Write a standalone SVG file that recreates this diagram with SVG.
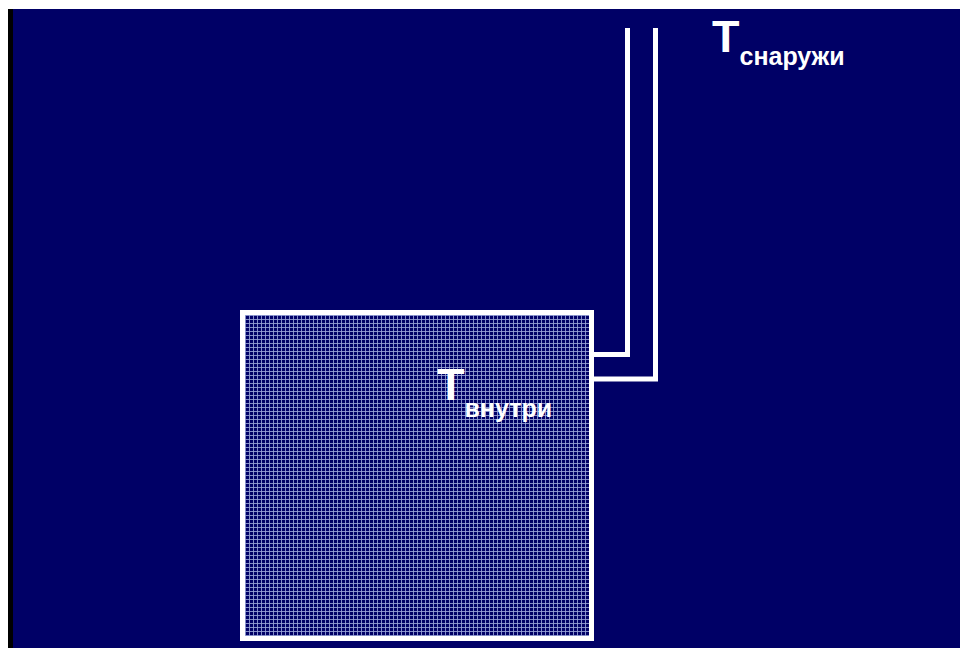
<svg xmlns="http://www.w3.org/2000/svg" width="960" height="648" viewBox="0 0 960 648">
<style>
.pipe{fill:none;stroke:#ffffff;stroke-width:5;stroke-linejoin:miter}
.big{font-family:"Liberation Sans",Arial,sans-serif;font-weight:bold;fill:#ffffff;font-size:45px}
.sub{font-family:"Liberation Sans",Arial,sans-serif;font-weight:bold;fill:#ffffff;font-size:25px}
</style>
<defs>
<pattern id="grid" x="245" y="315" width="4" height="4" patternUnits="userSpaceOnUse">
<rect width="4" height="4" fill="#000066"/>
<rect x="0" y="0" width="1" height="4" fill="#9aa6d8" opacity="0.85"/>
<rect x="0" y="0" width="4" height="1" fill="#9aa6d8" opacity="0.85"/>
</pattern>
</defs>
<rect x="0" y="0" width="960" height="648" fill="#ffffff"/>
<rect x="8" y="9" width="952" height="639" fill="#000000"/>
<rect x="13" y="9" width="947" height="639" fill="#000066"/>
<g id="room">
<rect x="242.5" y="312.5" width="349" height="326" fill="url(#grid)" stroke="#ffffff" stroke-width="5"/>
</g>
<g id="connectors">
<path class="pipe" d="M594,354.5 H627.5 V28"/>
<path class="pipe" d="M594,379 H655.5 V28"/>
</g>
<g id="label-outside">
<text x="712" y="52"><tspan class="big">T</tspan><tspan class="sub" dy="13">снаружи</tspan></text>
</g>
<g id="label-inside">
<text x="437" y="400"><tspan class="big">T</tspan><tspan class="sub" dy="17">внутри</tspan></text>
</g>
</svg>
